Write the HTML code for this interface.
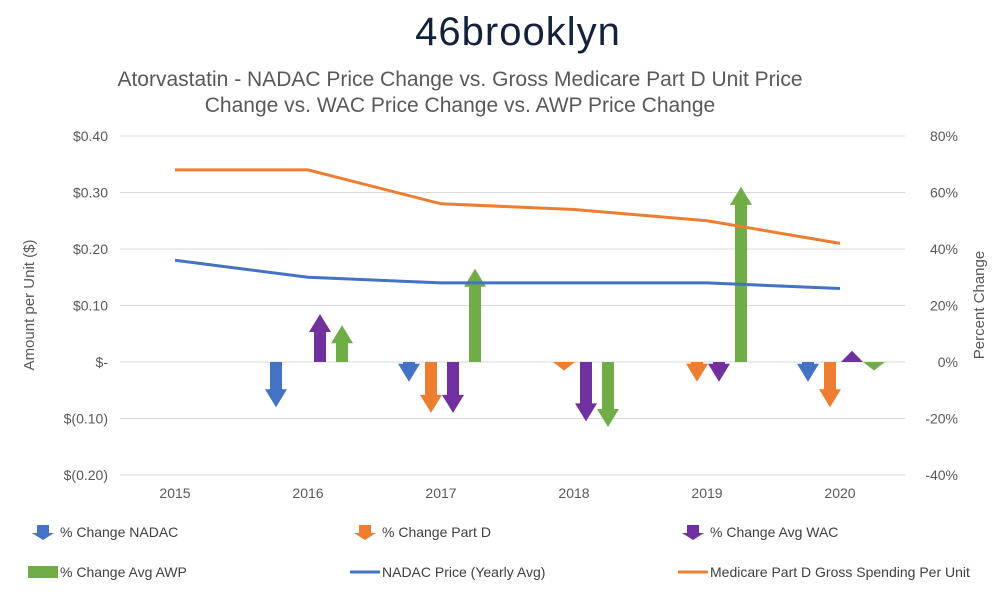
<!DOCTYPE html>
<html><head><meta charset="utf-8"><style>
body{margin:0;background:#fff;font-family:"Liberation Sans",sans-serif;}
svg text{font-family:"Liberation Sans",sans-serif;}
</style></head><body>
<svg width="1000" height="597" viewBox="0 0 1000 597" xmlns="http://www.w3.org/2000/svg" id="chart">
<text x="518" y="45" text-anchor="middle" font-size="40" letter-spacing="1" fill="#14213d">46brooklyn</text>
<text x="460" y="86" text-anchor="middle" font-size="21" fill="#595959">Atorvastatin - NADAC Price Change vs. Gross Medicare Part D Unit Price</text>
<text x="460" y="112" text-anchor="middle" font-size="21" fill="#595959">Change vs. WAC Price Change vs. AWP Price Change</text>
<text transform="translate(34,305) rotate(-90)" text-anchor="middle" font-size="15" fill="#595959">Amount per Unit ($)</text>
<text transform="translate(984,305) rotate(-90)" text-anchor="middle" font-size="15" fill="#595959">Percent Change</text>
<g id="grid"></g><g id="marks"></g><g id="legend"></g>
</svg>
<script>
const years=["2015","2016","2017","2018","2019","2020"];
const nadacPrice=[0.18,0.15,0.14,0.14,0.14,0.13];
const partDPrice=[0.34,0.34,0.28,0.27,0.25,0.21];
const chgNadac=[null,-16,-7,null,null,-7];
const chgPartD=[null,null,-18,-3,-7,-16];
const chgWac=[null,17,-18,-21,-7,4];
const chgAwp=[null,13,33,-23,62,-3];
const leftTicks=[0.4,0.3,0.2,0.1,0,-0.1,-0.2];
const leftLabels=["$0.40","$0.30","$0.20","$0.10","$-","$(0.10)","$(0.20)"];
const rightLabels=["80%","60%","40%","20%","0%","-20%","-40%"];
const NS="http://www.w3.org/2000/svg";
const x0=120,x1=905;
const yL=v=>362-v*565;
const yR=p=>362-p*2.825;
const xC=i=>175+i*133;
function el(t,a,p){const e=document.createElementNS(NS,t);for(const k in a)e.setAttribute(k,a[k]);p.appendChild(e);return e;}
const grid=document.getElementById('grid'),marks=document.getElementById('marks'),leg=document.getElementById('legend');
leftTicks.forEach((v,i)=>{
 const y=yL(v);
 const l=el('line',{x1:x0,x2:x1,y1:y,y2:y,stroke:'#d9d9d9','stroke-width':1},grid);
 
 
 const t=el('text',{x:108,y:y+5,'text-anchor':'end','font-size':14,fill:'#595959'},grid);t.textContent=leftLabels[i];
 
 
 const r=el('text',{x:958,y:y+5,'text-anchor':'end','font-size':14,fill:'#595959'},grid);r.textContent=rightLabels[i];
 
 
});
years.forEach((yr,i)=>{
 const t=el('text',{x:xC(i),y:498,'text-anchor':'middle','font-size':14,fill:'#595959'},grid);t.textContent=yr;
 
 
});
function arrow(cx,p,color,g){
 const y0=yR(0),y=yR(p),dir=p<0?1:-1,len=Math.abs(y-y0);
 const hh=Math.min(18,len),bw=6,hw=11;
 const yb=y-dir*hh;
 const d=`M${cx-bw},${y0} L${cx-bw},${yb} L${cx-hw},${yb} L${cx},${y} L${cx+hw},${yb} L${cx+bw},${yb} L${cx+bw},${y0} Z`;
 return el('path',{d:d,fill:color},g);
}
const series=[[chgNadac,'#4472c4',-32,'nadac'],[chgPartD,'#ed7d31',-10,'partd'],[chgWac,'#7030a0',12,'wac'],[chgAwp,'#70ad47',34,'awp']];
series.forEach(([arr,c,off,n])=>arr.forEach((v,i)=>{
 if(v===null)return;
 const a=arrow(xC(i)+off,v,c,marks);
 
 
}));
function line(arr,c,n){
 const p=el('polyline',{points:arr.map((v,i)=>xC(i)+','+yL(v)).join(' '),fill:'none',stroke:c,'stroke-width':3},marks);
 
 
}
line(nadacPrice,'#4472c4','nadac-price-line');
line(partDPrice,'#ed7d31','partd-price-line');
const items=[['arrow','#4472c4','% Change NADAC',28,532],['arrow','#ed7d31','% Change Part D',350,532],['arrow','#7030a0','% Change Avg WAC',678,532],
['up','#70ad47','% Change Avg AWP',28,572],['line','#4472c4','NADAC Price (Yearly Avg)',350,572],['line','#ed7d31','Medicare Part D Gross Spending Per Unit',678,572]];
items.forEach(([k,c,lab,x,y])=>{
 const g=el('g',{},leg);
 
 
 if(k==='line')el('line',{x1:x,x2:x+30,y1:y,y2:y,stroke:c,'stroke-width':3},g);
 else if(k==='up')el('rect',{x:x,y:y-6,width:30,height:12,fill:c},g);
 else el('path',{d:`M${x+9},${y-7} L${x+21},${y-7} L${x+21},${y+1} L${x+26},${y+1} L${x+15},${y+8} L${x+4},${y+1} L${x+9},${y+1} Z`,fill:c},g);
 const t=el('text',{x:x+32,y:y+5,'font-size':14,fill:'#404040'},g);t.textContent=lab;
});
</script>
</body></html>
